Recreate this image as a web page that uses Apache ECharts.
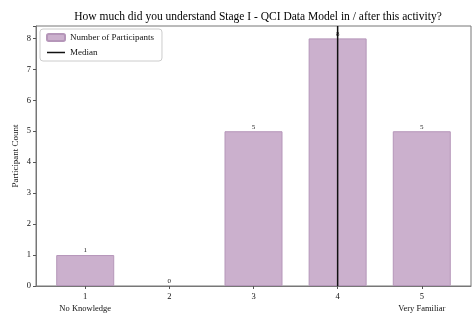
<!DOCTYPE html>
<html>
<head>
<meta charset="utf-8">
<script src="https://cdn.jsdelivr.net/npm/echarts@6/dist/echarts.min.js"></script>
<style>
  html, body { margin: 0; padding: 0; background: #fff; }
  #chart { width: 475px; height: 315px; }
</style>
</head>
<body>
<div id="chart"></div>
<script>
  // survey answers 1..5 and how many participants picked each
  const levels = [1, 2, 3, 4, 5];
  const counts = [1, 0, 5, 8, 5];
  const levelNames = ['No Knowledge', '', '', '', 'Very Familiar'];
  const median = 4;
  const yTicks = [0, 1, 2, 3, 4, 5, 6, 7, 8];

  const serif = '"Liberation Serif", "DejaVu Serif", serif';
  const chart = echarts.init(document.getElementById('chart'));

  // thin horizontal stroke for the legend, padded by two tiny dots so it is not stretched
  const lineIcon = 'path://M0,0H0.01V0.01H0Z M0,2.8H18V4.2H0Z M17.99,6.99H18V7H17.99Z';

  const option = {
    animation: false,
    textStyle: { fontFamily: serif },
    title: {
      text: 'How much did you understand Stage I - QCI Data Model in / after this activity?',
      left: 253, top: 6, textAlign: 'center',
      textStyle: { fontFamily: serif, fontSize: 11.5, fontWeight: 'normal', color: '#000' }
    },
    legend: {
      orient: 'vertical', left: 40, top: 29,
      itemWidth: 18, itemHeight: 7, itemGap: 6,
      padding: [4, 8, 4, 6],
      borderColor: '#ccc', borderWidth: 1, borderRadius: 3,
      textStyle: { fontFamily: serif, fontSize: 9, color: '#111' },
      data: [
        { name: 'Number of Participants' },
        { name: 'Median', icon: lineIcon, itemStyle: { color: '#111' } }
      ]
    },
    grid: { left: 36, right: 4, top: 26, bottom: 29, show: true, borderColor: '#777', borderWidth: 1 },
    xAxis: {
      type: 'value', min: 0.415, max: 5.585,
      splitLine: { show: false },
      axisLine: { lineStyle: { color: '#777' } },
      axisTick: { show: true, customValues: levels, length: 3, lineStyle: { color: '#555' } },
      axisLabel: {
        customValues: levels, color: '#111', fontSize: 8.5, margin: 5, lineHeight: 12,
        formatter: v => {
          const i = levels.indexOf(v);
          return levelNames[i] ? v + '\n' + levelNames[i] : String(v);
        }
      }
    },
    yAxis: {
      type: 'value', min: 0, max: 8.4, interval: 1,
      name: 'Participant Count', nameLocation: 'middle', nameGap: 16, nameMoveOverlap: false,
      nameTextStyle: { fontFamily: serif, fontSize: 9, color: '#111' },
      splitLine: { show: false },
      axisLine: { show: true, lineStyle: { color: '#777' } },
      axisTick: { show: true, length: 3, lineStyle: { color: '#555' } },
      axisLabel: {
        color: '#111', fontSize: 8.5, margin: 5,
        formatter: v => (yTicks.indexOf(v) >= 0 ? String(v) : '')
      }
    },
    series: [
      {
        name: 'Number of Participants',
        type: 'bar',
        barWidth: 58,
        data: levels.map((l, i) => ({
          value: [l, counts[i]],
          itemStyle: counts[i] === 0 ? { borderWidth: 0 } : undefined
        })),
        itemStyle: { color: '#cbb0cd', borderColor: '#b596b9', borderWidth: 1 },
        label: { show: true, position: 'top', distance: 1, fontSize: 7, color: '#222', fontFamily: serif,
          formatter: p => String(p.value[1]) }
      },
      {
        name: 'Median',
        type: 'line',
        symbol: 'none',
        data: [[median, 0], [median, 8.4]],
        lineStyle: { color: '#111', width: 1.5 },
        itemStyle: { color: '#111' },
        z: 5
      }
    ]
  };

  chart.setOption(option);
</script>
</body>
</html>
